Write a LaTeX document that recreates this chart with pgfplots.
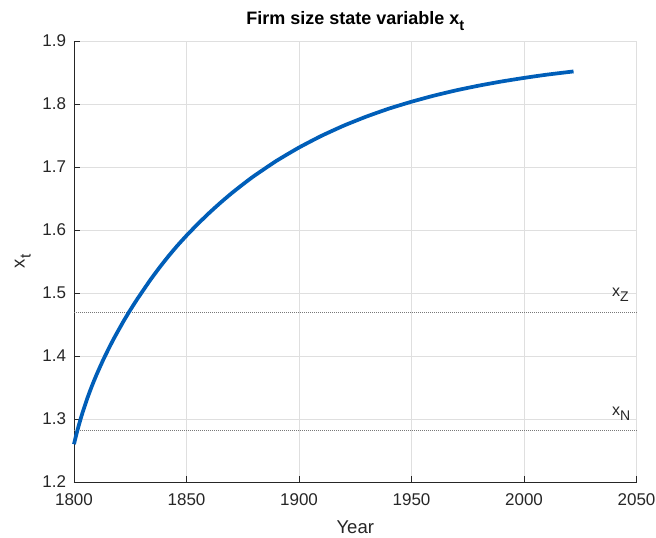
\documentclass[border=0pt]{standalone}
\usepackage{pgfplots}
\pgfplotsset{compat=1.18}
\usepackage{fontspec}
\setmainfont{Liberation Sans}

\definecolor{lineblue}{RGB}{0,94,184}
\definecolor{axisgray}{RGB}{38,38,38}
\definecolor{gridgray}{RGB}{223,223,223}
\definecolor{refgray}{RGB}{120,120,120}

% firm size state variable over time
\pgfplotstableread{
year  x
1800  1.2600
1801  1.2749
1802  1.2883
1803  1.3007
1804  1.3123
1806  1.3336
1808  1.3527
1810  1.3701
1813  1.3940
1816  1.4158
1818  1.4295
1822  1.4551
1825  1.4729
1828  1.4897
1831  1.5055
1834  1.5211
1838  1.5404
1842  1.5585
1846  1.5754
1850  1.5911
1855  1.6095
1860  1.6268
1865  1.6430
1870  1.6582
1875  1.6723
1880  1.6857
1890  1.7098
1900  1.7309
1910  1.7495
1920  1.7658
1930  1.7801
1940  1.7927
1950  1.8036
1960  1.8133
1970  1.8218
1980  1.8292
1990  1.8357
2000  1.8414
2010  1.8465
2022  1.8517
}\xdata

\begin{document}
\begin{tikzpicture}
\begin{axis}[
  name=ax,
  scale only axis,
  width=421.9pt, height=330.75pt,
  xmin=1800, xmax=2050,
  ymin=1.2, ymax=1.9,
  xtick={1800,1850,...,2050},
  ytick={1.2,1.3,1.4,1.5,1.6,1.7,1.8,1.9},
  yticklabel style={/pgf/number format/fixed, /pgf/number format/fixed zerofill, /pgf/number format/precision=1},
  xticklabel style={/pgf/number format/1000 sep={}},
  /pgf/number format/assume math mode=true,
  axis x line=bottom, axis y line=left,
  axis line style={-, draw=axisgray, line width=0.6pt},
  tick style={draw=axisgray, line width=0.6pt},
  tick align=inside,
  major tick length=4.2pt,
  grid=major,
  major grid style={draw=gridgray, line width=0.6pt},
  ticklabel style={font=\fontsize{12.75}{14}\selectfont, text=axisgray},
  xticklabel style={yshift=-5pt},
  yticklabel style={xshift=-2.5pt},
  clip=false,
]
% reference levels x_Z and x_N
\addplot[refgray, line width=0.7pt, dash pattern=on 0.7pt off 0.8pt] coordinates {(1800,1.469) (2050,1.469)};
\addplot[refgray, line width=0.7pt, dash pattern=on 0.7pt off 0.8pt] coordinates {(1800,1.281) (2050,1.281)};
\addplot[lineblue, line width=2.8pt, line join=round, smooth, tension=0.3] table[x=year, y=x] {\xdata};

\node[anchor=base west, text=axisgray, inner sep=0pt, font=\fontsize{12}{14}\selectfont]
  at (axis cs:2039,1.494) {x\raisebox{-0.6ex}{\fontsize{10.5}{12}\selectfont Z}};
\node[anchor=base west, text=axisgray, inner sep=0pt, font=\fontsize{12}{14}\selectfont]
  at (axis cs:2039,1.305) {x\raisebox{-0.6ex}{\fontsize{10.5}{12}\selectfont N}};

% title
\node[anchor=base, inner sep=0pt, text=black, font=\bfseries\fontsize{13.5}{16}\selectfont]
  at ([yshift=12.5pt]rel axis cs:0.5,1) {Firm size state variable x\raisebox{-0.6ex}{\fontsize{11}{13}\selectfont t}};
% axis labels
\node[anchor=base, inner sep=0pt, text=axisgray, font=\fontsize{13.9}{16}\selectfont]
  at ([yshift=-38.5pt]rel axis cs:0.5,0) {Year};
\node[anchor=base, inner sep=0pt, rotate=90, text=axisgray, font=\fontsize{13.9}{16}\selectfont]
  at ([xshift=-37pt]rel axis cs:0,0.5) {x\raisebox{-0.6ex}{\fontsize{11.5}{13}\selectfont t}};
\end{axis}
\pgfresetboundingbox
\path ([shift={(-55.5pt,-42pt)}]ax.south west) rectangle ([shift={(14.6pt,30.75pt)}]ax.north east);
\end{tikzpicture}
\end{document}
